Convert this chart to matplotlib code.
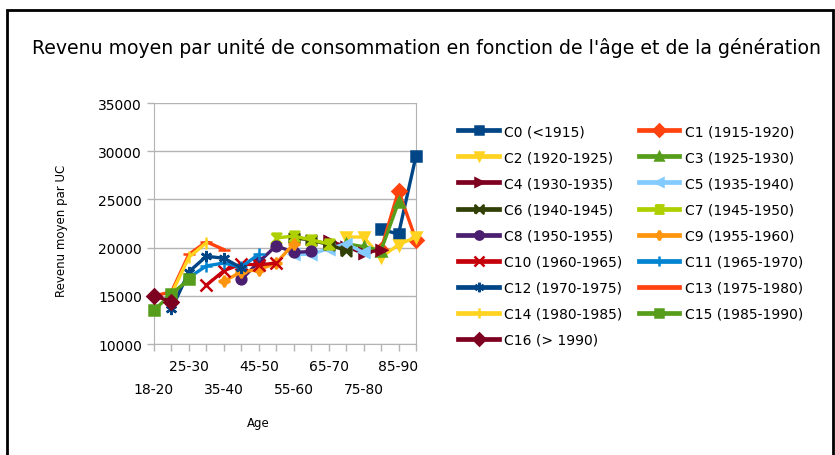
"""Average income per consumption unit by age bracket, one line per birth cohort."""
import numpy as np
import matplotlib
matplotlib.use("Agg")
import matplotlib.pyplot as plt
from matplotlib.patches import Rectangle

nan = np.nan

ages = ["18-20", "20-25", "25-30", "30-35", "35-40", "40-45", "45-50", "50-55",
        "55-60", "60-65", "65-70", "70-75", "75-80", "80-85", "85-90", "> 90"]

cohorts = ["C0 (<1915)", "C1 (1915-1920)", "C2 (1920-1925)", "C3 (1925-1930)",
           "C4 (1930-1935)", "C5 (1935-1940)", "C6 (1940-1945)", "C7 (1945-1950)",
           "C8 (1950-1955)", "C9 (1955-1960)", "C10 (1960-1965)", "C11 (1965-1970)",
           "C12 (1970-1975)", "C13 (1975-1980)", "C14 (1980-1985)", "C15 (1985-1990)",
           "C16 (> 1990)"]

# revenue per UC, indexed like `ages` (nan = cohort not observed at that age)
c0 = [nan] * 13 + [21900, 21400, 29500]
c1 = [nan] * 13 + [19800, 25900, 20800]
c2 = [nan] * 11 + [21100, 21100, 19000, 20300, 21100]
c3 = [nan] * 11 + [20400, 20100, 19700, 24700, nan]
c4 = [nan] * 10 + [20700, 20100, 19400, 19800, nan, nan]
c5 = [nan] * 8 + [19300, 19300, 19900, 20400, 19500, nan, nan, nan]
c6 = [nan] * 8 + [21000, 20800, 20300, 19700, nan, nan, nan, nan]
c7 = [nan] * 7 + [21000, 21200, 20800, 20400] + [nan] * 5
c8 = [nan] * 5 + [16700, 18500, 20200, 19500, 19600] + [nan] * 6
c9 = [nan] * 4 + [16500, 17500, 17700, 18400, 20400] + [nan] * 7
c10 = [nan] * 3 + [16100, 17600, 18300, 18200, 18400] + [nan] * 8
c11 = [nan] * 2 + [16900, 18100, 18400, 18000, 19300] + [nan] * 9
c12 = [nan] + [13600, 17500, 19100, 18900, 17900] + [nan] * 10
c13 = [15000, 15400, 19300, 20600, 19800] + [nan] * 11
c14 = [nan, 15200, 19000, 20500] + [nan] * 12
c15 = [13500, 15200, 16700] + [nan] * 13
c16 = [15000, 14400] + [nan] * 14

series = [c0, c1, c2, c3, c4, c5, c6, c7, c8, c9, c10, c11, c12, c13, c14, c15, c16]

# office-suite default chart palette, cycled over the 17 cohorts
base_colors = ["#004586", "#ff420e", "#ffd320", "#579d1c", "#7e0021", "#83caff",
               "#314004", "#aecf00", "#4b1f6f", "#ff950e", "#c5000b", "#0084d1"]

bowtie = [(-1, -1), (-1, 1), (0, 0), (1, 1), (1, -1), (0, 0), (-1, -1)]
hourglass = [(-1, 1), (1, 1), (0, 0), (1, -1), (-1, -1), (0, 0), (-1, 1)]
base_markers = ["s", "D", "v", "^", ">", "<", bowtie, hourglass, "o",
                (4, 1, 0), "x", "+", (6, 2, 0), "_", "|"]


def render(output="out.png"):
    plt.rcParams["font.family"] = ["DejaVu Sans"]
    fig = plt.figure(figsize=(8.35, 4.56), dpi=100)
    ax = fig.add_axes([0.1844, 0.2434, 0.3138, 0.5285])

    x = np.arange(len(ages))
    handles = []
    for k, (vals, name) in enumerate(zip(series, cohorts)):
        col = base_colors[k % len(base_colors)]
        mk = base_markers[k % len(base_markers)]
        ms = 8 if mk in ("x", "+", "_", "|") or isinstance(mk, tuple) else 7
        (ln,) = ax.plot(x, vals, color=col, linewidth=2.4, marker=mk, markersize=ms,
                        markerfacecolor=col, markeredgecolor=col, markeredgewidth=1.8,
                        label=name, clip_on=False, zorder=3 + k * 0.01)
        handles.append(ln)

    ax.set_xlim(0, len(ages) - 1)
    ax.set_ylim(10000, 35000)
    ax.set_yticks(np.arange(10000, 35001, 5000))
    ax.grid(axis="y", color="#b3b3b3", linewidth=1)
    ax.set_axisbelow(True)
    for side in ("left", "right", "bottom"):
        ax.spines[side].set_color("#b3b3b3")
    ax.spines["top"].set_visible(False)
    ax.tick_params(axis="y", colors="#b3b3b3", labelcolor="black", labelsize=10,
                   length=5, width=1)

    # category labels every other tick, staggered on two rows
    ax.set_xticks(x)
    ax.set_xticklabels([])
    ax.tick_params(axis="x", colors="#b3b3b3", length=5, width=1)
    for i in range(0, len(ages) - 1, 2):
        row = 0 if i % 4 == 2 else 1
        ax.annotate(ages[i], xy=(i, 0), xycoords=("data", "axes fraction"),
                    xytext=(0, -11 - 16.5 * row), textcoords="offset points",
                    ha="center", va="top", fontsize=10)

    fig.text(0.074, 0.493, "Revenu moyen par UC", rotation=90, ha="center",
             va="center", fontsize=8.5)
    fig.text(0.309, 0.071, "Age", ha="center", va="center", fontsize=8.5)
    fig.text(0.511, 0.895, "Revenu moyen par unité de consommation en fonction "
             "de l'âge et de la génération", ha="center", va="center", fontsize=13.6)

    # row-major legend order (C0 C1 / C2 C3 ...)
    order = list(range(0, len(handles), 2)) + list(range(1, len(handles), 2))
    leg = fig.legend([handles[i] for i in order], [cohorts[i] for i in order],
                     loc="upper left", bbox_to_anchor=(0.534, 0.753), ncol=2,
                     frameon=False, fontsize=10, handlelength=2.9, handletextpad=0.4,
                     labelspacing=0.87, columnspacing=1.19, markerscale=0.85)
    for h in leg.legend_handles:
        h.set_linewidth(3.4)

    fig.patches.append(Rectangle((0.0084, -0.05), 0.989, 1.026, transform=fig.transFigure,
                                 fill=False, edgecolor="black", linewidth=2))

    fig.savefig(output, dpi=100, facecolor="white")
    plt.close(fig)


if __name__ == "__main__":
    render()
